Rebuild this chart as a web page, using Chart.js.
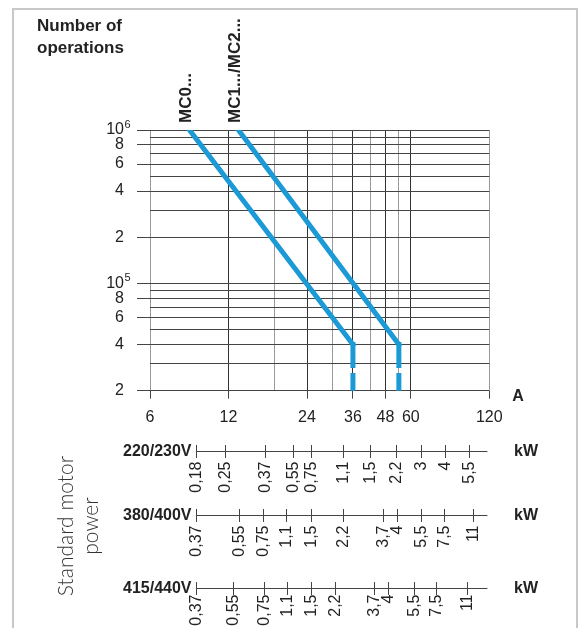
<!DOCTYPE html>
<html>
<head>
<meta charset="utf-8">
<script src="https://cdn.jsdelivr.net/npm/chart.js@4.4.1/dist/chart.umd.min.js"></script>
<style>
html,body{margin:0;background:#fff;}
#wrap{position:relative;width:582px;height:628px;overflow:hidden;}
#wrap canvas{position:absolute;left:0;top:0;}
#frame{position:absolute;left:12px;top:8px;width:562px;height:700px;border:2px solid #c8c8c8;pointer-events:none;}
</style>
</head>
<body>
<div id="wrap"><canvas id="chart" width="582" height="628"></canvas><div id="frame"></div></div>
<script>
// current axis (A) and number of operations
const ampGrid = [6, 12, 18, 24, 30, 36, 42, 48, 54, 60, 120];
const ampLabels = [6, 12, 24, 36, 48, 60, 120];
const opsGrid = [2e4, 3e4, 4e4, 5e4, 6e4, 7e4, 8e4, 9e4, 1e5, 2e5, 3e5, 4e5, 5e5, 6e5, 7e5, 8e5, 9e5, 1e6];
const opsLabels = [2e4, 4e4, 6e4, 8e4, 1e5, 2e5, 4e5, 6e5, 8e5, 1e6];

// life curves
const seriesNames = ["MC0...", "MC1.../MC2..."];
const mc0Amps = [8.5, 36, 36];
const mc0Ops = [1e6, 4e4, 2e4];
const mc12Amps = [13.1, 54, 54];
const mc12Ops = [1e6, 4e4, 2e4];

// standard motor power scales: kW label and matching current
const kw220 = ["0,18", "0,25", "0,37", "0,55", "0,75", "1,1", "1,5", "2,2", "3", "4", "5,5"];
const amp220 = [9.0, 11.6, 16.5, 21.3, 24.8, 32.9, 41.9, 52.7, 65.6, 81.1, 100.6];
const kw380 = ["0,37", "0,55", "0,75", "1,1", "1,5", "2,2", "3,7", "4", "5,5", "7,5", "11"];
const amp380 = [9.0, 13.2, 16.3, 19.9, 24.8, 32.9, 47.1, 53.3, 65.6, 80.6, 103.6];
const kw415 = ["0,37", "0,55", "0,75", "1,1", "1,5", "2,2", "3,7", "4", "5,5", "7,5", "11"];
const amp415 = [9.0, 12.5, 16.4, 20.1, 24.8, 30.7, 43.4, 49.2, 61.7, 74.9, 98.8];
const voltages = ["220/230V", "380/400V", "415/440V"];
const kwScaleEnd = 118;

const FONT = '"Liberation Sans", Arial, sans-serif';
const BLUE = "#1b9ad6";
const isDecade = (v) => Math.abs(Math.log10(v) - Math.round(Math.log10(v))) < 1e-9;
const pts = (xs, ys) => xs.map((x, i) => ({ x, y: ys[i] }));

const extras = {
  id: "extras",
  afterDraw(chart){
    const { ctx, scales: { x, y }, chartArea: a } = chart;
    ctx.save();
    ctx.fillStyle = "#222";

    ctx.font = `bold 17px ${FONT}`;
    ctx.textAlign = "left"; ctx.textBaseline = "alphabetic";
    ctx.fillText("Number of", 37, 31);
    ctx.fillText("operations", 37, 53);

    // exponents of 10^5, 10^6
    ctx.font = `11px ${FONT}`;
    ctx.textBaseline = "middle";
    opsLabels.filter(isDecade).forEach(v => ctx.fillText(String(Math.round(Math.log10(v))), 124.5, y.getPixelForValue(v) - 5));

    ctx.font = `bold 16px ${FONT}`;
    ctx.textAlign = "center";
    ctx.fillText("A", 518, 397);

    // series names above the curves
    ctx.font = `bold 17px ${FONT}`;
    chart.data.datasets.forEach((ds, i) => {
      const p = chart.getDatasetMeta(i).data[0];
      ctx.save();
      ctx.translate(p.x - 3, a.top - 7);
      ctx.rotate(-Math.PI / 2);
      ctx.textAlign = "left"; ctx.textBaseline = "middle";
      ctx.fillText(ds.label, 0, 0);
      ctx.restore();
    });

    // kW scales
    const rows = [[kw220, amp220], [kw380, amp380], [kw415, amp415]];
    const rowY = [451.5, 515.5, 588.5];
    const labelGap = [10, 10, 6];
    rows.forEach(([kw, amps], r) => {
      const yy = rowY[r];
      ctx.strokeStyle = "#444"; ctx.lineWidth = 1;
      ctx.beginPath();
      ctx.moveTo(x.getPixelForValue(amps[0]), yy);
      ctx.lineTo(x.getPixelForValue(kwScaleEnd), yy);
      amps.forEach(v => {
        const px = Math.round(x.getPixelForValue(v)) + 0.5;
        ctx.moveTo(px, yy - 6.5); ctx.lineTo(px, yy + 6.5);
      });
      ctx.stroke();

      ctx.font = `16px ${FONT}`;
      amps.forEach((v, i) => {
        ctx.save();
        ctx.translate(Math.round(x.getPixelForValue(v)) + 0.5, yy + labelGap[r]);
        ctx.rotate(-Math.PI / 2);
        ctx.textAlign = "right"; ctx.textBaseline = "middle";
        ctx.fillText(kw[i], 0, 0);
        ctx.restore();
      });

      ctx.font = `bold 16px ${FONT}`;
      ctx.textBaseline = "middle";
      ctx.textAlign = "right";
      ctx.fillText(voltages[r], 191.5, yy);
      ctx.textAlign = "left";
      ctx.fillText("kW", 514, yy);
    });

    ctx.fillStyle = "#333";
    ctx.font = `300 21px Lato, "Noto Sans", sans-serif`;
    ctx.textAlign = "center"; ctx.textBaseline = "middle";
    [["Standard motor", 66], ["power", 91]].forEach(([t, cx]) => {
      ctx.save();
      ctx.translate(cx, 526);
      ctx.rotate(-Math.PI / 2);
      ctx.fillText(t, 0, 0);
      ctx.restore();
    });
    ctx.restore();
  }
};

// tiny tension keeps Chart.js off its fast path, which retraces vertical runs and fills the dash gaps
const lineDs = (label, data) => ({
  label, data,
  borderColor: BLUE, borderWidth: 5, pointRadius: 0, tension: 0.0001,
  borderCapStyle: "square", clip: 0,
  segment: { borderDash: c => c.p0DataIndex === 1 ? [21, 10] : [] }
});

new Chart(document.getElementById("chart"), {
  type: "line",
  data: { datasets: [lineDs(seriesNames[0], pts(mc0Amps, mc0Ops)), lineDs(seriesNames[1], pts(mc12Amps, mc12Ops))] },
  options: {
    responsive: false, animation: false, devicePixelRatio: 1,
    layout: { padding: { top: 130, right: 92.7, bottom: 0, left: 0 } },
    plugins: { legend: { display: false }, tooltip: { enabled: false } },
    scales: {
      x: {
        type: "logarithmic", min: 6, max: 120,
        afterBuildTicks: s => { s.ticks = ampGrid.map(v => ({ value: v })); },
        afterFit: s => { s.height = 628 - 390.7; },
        border: { display: false },
        grid: {
          tickLength: 8, lineWidth: 1,
          color: c => (c.tick && ampLabels.includes(c.tick.value) && c.tick.value !== 6 && c.tick.value !== 120) ? "#333" : "#999",
          tickColor: c => (c.tick && ampLabels.includes(c.tick.value)) ? "#444" : "rgba(0,0,0,0)"
        },
        ticks: {
          autoSkip: false, maxRotation: 0, padding: 9, color: "#222", font: { family: FONT, size: 16 },
          callback: v => ampLabels.includes(v) ? String(v) : ""
        }
      },
      y: {
        type: "logarithmic", min: 2e4, max: 1e6,
        afterBuildTicks: s => { s.ticks = opsGrid.map(v => ({ value: v })); },
        afterFit: s => { s.width = 150; },
        border: { display: false },
        grid: {
          tickLength: 13, lineWidth: 1, color: "#444",
          tickColor: c => (c.tick && opsLabels.includes(c.tick.value)) ? "#444" : "rgba(0,0,0,0)"
        },
        ticks: {
          autoSkip: false, padding: 13, color: "#222", font: { family: FONT, size: 16 },
          callback: v => !opsLabels.includes(v) ? "" : isDecade(v) ? "10" : String(Math.round(v / Math.pow(10, Math.floor(Math.log10(v)))))
        }
      }
    }
  },
  plugins: [extras]
});
</script>
</body>
</html>
